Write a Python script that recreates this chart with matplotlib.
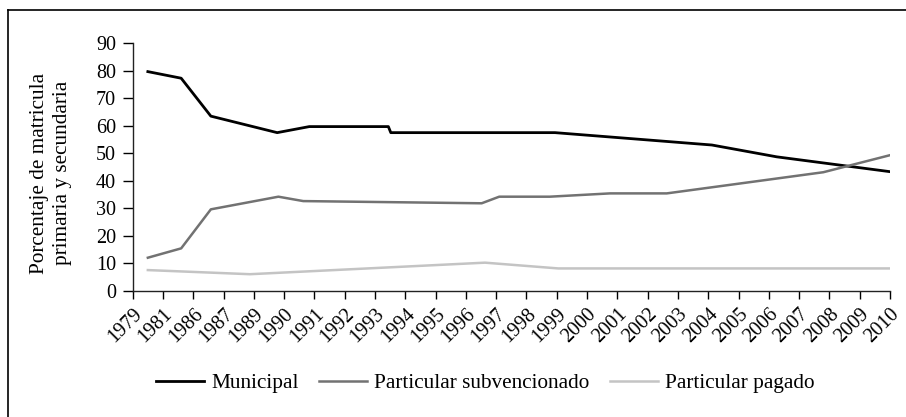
import matplotlib
matplotlib.use("Agg")
import matplotlib.pyplot as plt
from matplotlib.lines import Line2D

plt.rcParams['font.family'] = ['Liberation Serif', 'DejaVu Serif']

# Category tick labels (years)
years = ["1979", "1981", "1986", "1987", "1989", "1990", "1991", "1992", "1993",
         "1994", "1995", "1996", "1997", "1998", "1999", "2000", "2001", "2002",
         "2003", "2004", "2005", "2006", "2007", "2008", "2009", "2010"]

# Series break points (x in category-index units, y in percent)
municipal_x = [0.5, 1.6, 2.58, 4.77, 5.83, 8.44, 8.52, 13.94, 19.12, 21.26, 25]
municipal_y = [79.7, 77.3, 63.5, 57.5, 59.7, 59.7, 57.5, 57.5, 53.0, 48.7, 43.3]

subv_x = [0.5, 1.6, 2.58, 4.81, 5.63, 11.52, 12.1, 13.77, 15.76, 17.63, 22.8, 25]
subv_y = [12.0, 15.4, 29.6, 34.2, 32.6, 31.8, 34.2, 34.2, 35.4, 35.4, 43.1, 49.3]

pagado_x = [0.5, 3.87, 11.63, 14.05, 25]
pagado_y = [7.5, 6.0, 10.2, 8.1, 8.1]

yticks = [0, 10, 20, 30, 40, 50, 60, 70, 80, 90]

fig = plt.figure(figsize=(9.06, 4.17), dpi=100)
ax = fig.add_axes([132.7/906, 1-290.7/417, (890-132.7)/906, (290.7-43.3)/417])

ax.plot(municipal_x, municipal_y, color='#000000', lw=2.0, label='Municipal')
ax.plot(subv_x, subv_y, color='#727272', lw=1.8, label='Particular subvencionado')
ax.plot(pagado_x, pagado_y, color='#c4c4c4', lw=1.8, label='Particular pagado')

ax.set_xlim(0, len(years) - 1)
ax.set_ylim(0, 90)
ax.set_xticks(range(len(years)))
ax.set_xticklabels(years, rotation=45, ha='right', va='top', rotation_mode='anchor', fontsize=14.5)
ax.set_yticks(yticks)
ax.set_yticklabels([str(v) for v in yticks], fontsize=14.5)
ax.tick_params(axis='x', length=6, width=1, direction='out', pad=4)
ax.tick_params(axis='y', length=7, width=1, direction='out', pad=5)
for s in ['top', 'right']:
    ax.spines[s].set_visible(False)
for s in ['left', 'bottom']:
    ax.spines[s].set_linewidth(1.0)
    ax.spines[s].set_color('#222222')

ax.set_ylabel('Porcentaje de matricula\nprimaria y secundaria', fontsize=15.3, linespacing=1.3)
ax.yaxis.set_label_coords(-0.08, 0.475)

fig.legend(loc='center', bbox_to_anchor=(485.5/906, 1-383/417), ncol=3, frameon=False,
           fontsize=15.3, handlelength=2.26, handletextpad=0.34, columnspacing=0.95)

# Outer frame (left and top only visible)
fig.add_artist(Line2D([8/906, 8/906], [0, 1-10/417], transform=fig.transFigure, color='black', lw=1.2))
fig.add_artist(Line2D([8/906, 1], [1-10/417, 1-10/417], transform=fig.transFigure, color='black', lw=1.2))

fig.savefig('out.png', dpi=100)
